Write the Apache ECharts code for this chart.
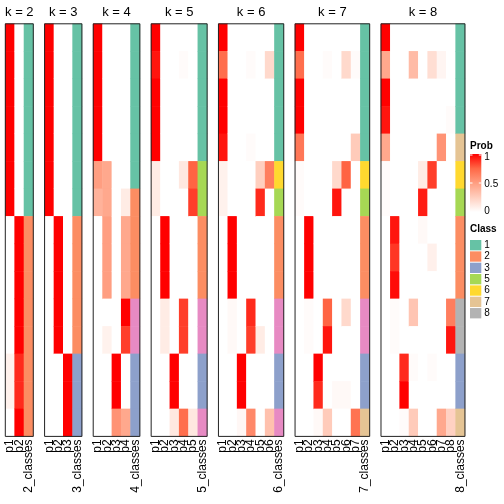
<!DOCTYPE html>
<html><head><meta charset="utf-8">
<script src="https://cdn.jsdelivr.net/npm/echarts@6/dist/echarts.min.js"></script>
<style>html,body{margin:0;padding:0;background:#fff}#c{width:504px;height:504px}</style>
</head><body><div id="c"></div><script>
// ---------- data ----------
const kValues = [2, 3, 4, 5, 6, 7, 8];
const sampleNames = ['s1','s2','s3','s4','s5','s6','s7','s8','s9','s10','s11','s12','s13','s14','s15'];

const prob_k2 = [
  [1,1,1,1,1,1,1,0,0,0,0,0,0.07,0.07,0],
  [0,0,0,0,0,0,0,1,1,1,1,1,0.9,0.9,1]
];
const class_k2 = [1,1,1,1,1,1,1,2,2,2,2,2,2,2,2];

const prob_k3 = [
  [1,1,1,1,1,1,1,0,0,0,0,0,0,0,0],
  [0,0,0,0,0,0,0,1,1,1,1,1,0,0,0],
  [0,0,0,0,0,0,0,0,0,0,0,0,1,1,1]
];
const class_k3 = [1,1,1,1,1,1,1,2,2,2,2,2,3,3,3];

const prob_k4 = [
  [1,1,1,1,1,0.5,0.4,0,0,0,0,0,0,0,0],
  [0,0,0,0,0,0.45,0.45,0.5,0.5,0.5,0,0.07,0,0,0],
  [0,0,0,0,0,0,0,0,0,0,0,0,1,1,0.55],
  [0,0,0,0,0,0,0.1,0.45,0.45,0.45,1,0.85,0,0,0.45]
];
const class_k4 = [1,1,1,1,1,1,2,2,2,2,4,4,3,3,3];

const prob_k5 = [
  [1,0.95,1,1,1,0.1,0.1,0,0,0,0,0,0,0,0],
  [0,0,0,0,0,0,0,1,1,1,0.1,0.1,0,0,0],
  [0,0,0,0,0,0,0,0,0,0,0,0,1,1,0.12],
  [0,0.02,0,0,0,0.12,0,0,0,0,0.85,0.85,0,0,0.72],
  [0,0,0,0,0,0.76,0.85,0,0,0,0,0,0,0,0.12]
];
const class_k5 = [1,1,1,1,1,5,5,2,2,2,4,4,3,3,4];

const prob_k6 = [
  [1,0.72,1,1,0.95,0.07,0.07,0,0,0,0,0,0,0,0],
  [0,0,0,0,0,0,0,1,1,1,0.03,0.03,0,0,0],
  [0,0,0,0,0,0,0,0,0,0,0,0,1,1,0.04],
  [0,0.02,0,0,0.02,0,0,0,0,0,0.9,0.85,0,0,0.6],
  [0,0,0,0,0,0.25,0.9,0,0,0,0,0.1,0,0,0],
  [0,0.2,0,0,0,0.65,0,0,0,0,0,0,0,0,0.32]
];
const class_k6 = [1,1,1,1,1,6,5,2,2,2,4,4,3,3,4];

const prob_k7 = [
  [1,0.72,1,1,0.68,0.02,0.02,0,0,0,0,0,0,0,0],
  [0,0,0,0,0,0,0,1,1,1,0.02,0.02,0,0,0],
  [0,0,0,0,0,0,0,0,0,0,0,0,1,0.9,0.03],
  [0,0.02,0,0,0,0,0,0,0,0,0.76,0.95,0,0,0.27],
  [0,0,0,0,0,0.2,0.95,0,0,0,0,0,0,0.03,0],
  [0,0.2,0,0,0,0.76,0,0,0,0,0.2,0,0,0.03,0],
  [0,0.02,0,0,0.27,0,0,0,0,0,0,0,0,0,0.7]
];
const class_k7 = [1,1,1,1,1,6,5,2,2,2,4,4,3,3,7];

const prob_k8 = [
  [1,0.45,1,0.95,0.45,0.02,0.02,0,0,0,0,0,0,0,0],
  [0,0,0,0,0,0,0,0.95,0.87,0.97,0.02,0.02,0,0,0],
  [0,0,0,0,0,0,0,0,0,0,0,0,0.9,1,0.02],
  [0,0.35,0,0,0,0,0,0,0,0,0.3,0,0.02,0,0.27],
  [0,0,0,0,0,0.1,0.93,0.03,0,0,0,0,0,0,0],
  [0,0.17,0,0,0,0.85,0,0,0.08,0,0,0,0.02,0,0],
  [0,0.05,0,0,0.55,0,0,0,0,0,0,0,0,0,0.45],
  [0,0,0,0.02,0,0,0,0,0,0,0.65,0.95,0,0,0.24]
];
const class_k8 = [1,1,1,1,7,6,5,2,2,2,8,8,3,3,7];

const probByK = [prob_k2, prob_k3, prob_k4, prob_k5, prob_k6, prob_k7, prob_k8];
const classByK = [class_k2, class_k3, class_k4, class_k5, class_k6, class_k7, class_k8];

const classIds = [1, 2, 3, 4, 5, 6, 7, 8];
const classColors = ['#66C2A5', '#FC8D62', '#8DA0CB', '#E78AC3', '#A6D854', '#FFD92F', '#E5C494', '#B3B3B3'];
const legendClassIds = [1, 2, 3, 5, 6, 7, 8];
const probLegendTicks = ['1', '0.5', '0'];
const probColors = ['#FFFFFF', '#FFCFBF', '#FF9E81', '#FF6846', '#FF0000'];

// ---------- layout ----------
const FONT = '"Liberation Sans", Arial, Helvetica, sans-serif';
const cellW = 9.33, panelTop = 23.8, panelH = 412.6, firstLeft = 5.3, gapW = 11.3;

const grids = [], xAxes = [], yAxes = [], series = [], graphics = [];
const probSeriesIdx = [], classSeriesIdx = [];
let left = firstLeft;
kValues.forEach((k, g) => {
  const w = cellW * (k + 1);
  grids.push({ left: left, top: panelTop, width: w, height: panelH, containLabel: false });
  const labels = [];
  for (let j = 1; j <= k; j++) labels.push('p' + j);
  labels.push(k + '_classes');
  xAxes.push({
    gridIndex: g, type: 'category', data: labels,
    axisLine: { show: false }, axisTick: { show: false }, splitLine: { show: false },
    axisLabel: { rotate: 90, interval: 0, fontSize: 12, color: '#000', margin: 3, fontFamily: FONT }
  });
  yAxes.push({ gridIndex: g, type: 'category', data: sampleNames, inverse: true, show: false });
  const pdata = [];
  probByK[g].forEach((col, j) => col.forEach((v, i) => pdata.push([j, i, v])));
  probSeriesIdx.push(series.length);
  series.push({ type: 'heatmap', xAxisIndex: g, yAxisIndex: g, data: pdata, silent: true, itemStyle: { borderWidth: 0 } });
  const cdata = classByK[g].map((c, i) => [k, i, c]);
  classSeriesIdx.push(series.length);
  series.push({ type: 'heatmap', xAxisIndex: g, yAxisIndex: g, data: cdata, silent: true, itemStyle: { borderWidth: 0 } });
  // panel border + title
  graphics.push({ type: 'rect', z: 100, silent: true, shape: { x: left, y: panelTop, width: w, height: panelH },
    style: { fill: null, stroke: '#222', lineWidth: 1 } });
  graphics.push({ type: 'text', z: 100, silent: true, x: left + w / 2, y: 12,
    style: { text: 'k = ' + k, font: '13px ' + FONT, fill: '#000', align: 'center', verticalAlign: 'middle' } });
  left += w + gapW;
});

// legends
const lgX = 470, boxW = 11.3;
graphics.push({ type: 'text', silent: true, x: lgX, y: 146,
  style: { text: 'Prob', font: 'bold 10px ' + FONT, fill: '#000', verticalAlign: 'middle' } });
const barTop = 154, barBot = 212;
graphics.push({ type: 'rect', silent: true, shape: { x: lgX, y: barTop, width: boxW, height: barBot - barTop },
  style: { fill: { type: 'linear', x: 0, y: 0, x2: 0, y2: 1, colorStops: probColors.slice().reverse().map((c, i, a) => ({ offset: i / (a.length - 1), color: c })) } } });
const tickYs = [barTop + 1, (barTop + barBot) / 2];
tickYs.forEach(ty => {
  graphics.push({ type: 'line', silent: true, shape: { x1: lgX, y1: ty, x2: lgX + 2.5, y2: ty }, style: { stroke: '#fff', lineWidth: 1 } });
  graphics.push({ type: 'line', silent: true, shape: { x1: lgX + boxW - 2.5, y1: ty, x2: lgX + boxW, y2: ty }, style: { stroke: '#fff', lineWidth: 1 } });
});
const tickLabelYs = [157.5, 184.5, 211.5];
probLegendTicks.forEach((t, i) => graphics.push({ type: 'text', silent: true, x: lgX + boxW + 3, y: tickLabelYs[i],
  style: { text: t, font: '10px ' + FONT, fill: '#000', verticalAlign: 'middle' } }));

graphics.push({ type: 'text', silent: true, x: lgX, y: 229,
  style: { text: 'Class', font: 'bold 10px ' + FONT, fill: '#000', verticalAlign: 'middle' } });
const clTop = 239.5, clStep = 11.34;
legendClassIds.forEach((c, i) => {
  const y = clTop + i * clStep;
  graphics.push({ type: 'rect', silent: true, shape: { x: lgX, y: y + 0.5, width: boxW, height: clStep - 1 },
    style: { fill: classColors[classIds.indexOf(c)] } });
  graphics.push({ type: 'text', silent: true, x: lgX + boxW + 3, y: y + clStep / 2,
    style: { text: String(c), font: '10px ' + FONT, fill: '#000', verticalAlign: 'middle' } });
});

const chart = echarts.init(document.getElementById('c'), null, { renderer: 'canvas' });
chart.setOption({
  animation: false,
  backgroundColor: '#fff',
  grid: grids, xAxis: xAxes, yAxis: yAxes,
  visualMap: [
    { type: 'continuous', min: 0, max: 1, show: false, seriesIndex: probSeriesIdx, inRange: { color: probColors } },
    { type: 'piecewise', show: false, seriesIndex: classSeriesIdx,
      pieces: classIds.map((c, i) => ({ value: c, color: classColors[i] })) }
  ],
  series: series,
  graphic: graphics
});
</script></body></html>
